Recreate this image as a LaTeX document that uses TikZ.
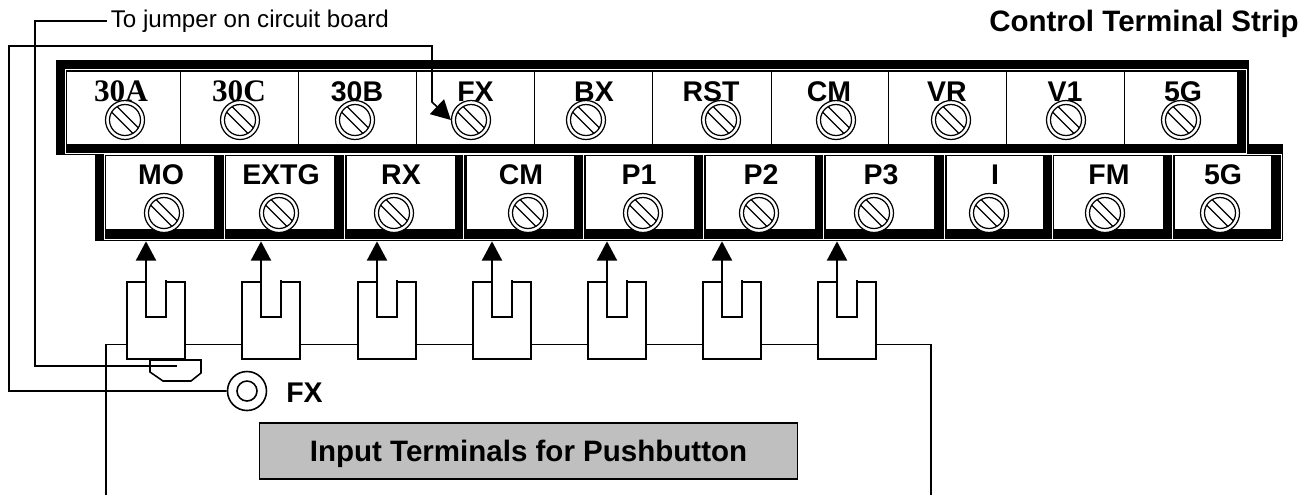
\documentclass[tikz,border=0pt]{standalone}
\usepackage{fontspec}
\setmainfont{Liberation Sans}
\newfontfamily\serifbold[BoldFont={Liberation Serif Bold}]{Liberation Serif}
\usetikzlibrary{arrows.meta}
\tikzset{
  strip/.style={draw=none,fill=black,rectangle,inner sep=0pt},
  wire/.style={line width=0.9pt},
  feed/.style={wire,-{Triangle[length=11pt,width=11.5pt]},shorten >=0pt},
  lugline/.style={line width=0.9pt,fill=white},
  gap/.style={white,line width=0.55pt},
  cell/.style={fill=white},
  tag/.style={font=\fontsize{16.2}{18}\selectfont\bfseries,anchor=base,inner sep=0pt},
  numtag/.style={font=\fontsize{17.8}{18}\selectfont\serifbold\bfseries,anchor=base,inner sep=0pt},
  screw/.style={circle,draw,fill=white,line width=0.7pt,inner sep=0pt,minimum size=0.78cm,
    path picture={
      \draw[line width=0.7pt,shift={(path picture bounding box.center)}] (0,0) circle [radius=15.5];
      \draw[line width=0.7pt,shift={(path picture bounding box.center)}]
        (-7.7,-13.3) -- (13.3,7.7) (-13.3,-7.7) -- (7.7,13.3);
    }},
  post/.style={circle,draw,fill=white,line width=0.9pt,inner sep=0pt,minimum size=0.78cm,
    path picture={\draw[line width=0.9pt] (path picture bounding box.center) circle [radius=10];}},
  lug/.pic={
    \draw[lugline] (19,0) -- (0,0) -- (0,77) -- (58,77) -- (58,0) -- (39,0) -- (39,35) -- (19,35) -- cycle;
    \draw[lugline] (39,0) -- (39,-2);}
}
\begin{document}
\begin{tikzpicture}[x=0.02cm,y=-0.02cm]
  \useasboundingbox (0,0) rectangle (1308,495);
  % black bodies of the two rows
  \node[strip,minimum width=23.76cm,minimum height=1.94cm] (lowerstrip) at (689,192.5) {};
  \node[strip,minimum width=23.86cm,minimum height=1.9cm] (upperstrip) at (652.5,107.5) {};
  % upper row
  \draw[gap] (65,69.5) rectangle (1246,153);
  \fill[cell] (67,72) rectangle (1237,144);
  \draw[line width=0.5pt] (180,72) -- (180,144) (298,72) -- (298,144) (416,72) -- (416,144)
    (534,72) -- (534,144) (652,72) -- (652,144) (771,72) -- (771,144) (888,72) -- (888,144)
    (1006,72) -- (1006,144) (1124,72) -- (1124,144);
  \node[numtag] (tagA) at (121,101) {30A};
  \node[numtag] (tagC) at (239,101) {30C};
  \node[tag] (tagB) at (357,101) {30B};
  \node[tag] (tagFX) at (475.5,101) {FX};
  \node[tag] (tagBX) at (594,101) {BX};
  \node[tag] (tagRST) at (711,101) {RST};
  \node[tag] (tagCMa) at (829,101) {CM};
  \node[tag] (tagVR) at (947,101) {VR};
  \node[tag] (tagVa) at (1065,101) {V1};
  \node[tag] (tagGa) at (1183,101) {5G};
  \node[screw] (scrA) at (125,120) {};
  \node[screw] (scrC) at (240,120) {};
  \node[screw] (scrB) at (355,120) {};
  \node[screw] (scrFX) at (471,120) {};
  \node[screw] (scrBX) at (586,120) {};
  \node[screw] (scrRST) at (721,120) {};
  \node[screw] (scrCMa) at (836,120) {};
  \node[screw] (scrVR) at (951,120) {};
  \node[screw] (scrVa) at (1066,120) {};
  \node[screw] (scrGa) at (1181,120) {};
  % lower row
  \draw[gap] (104,154) rectangle (1281,239);
  \draw[gap] (224,154) -- (224,239) (344,154) -- (344,239) (463.5,154) -- (463.5,239)
    (583.7,154) -- (583.7,239) (703,154) -- (703,239) (823.5,154) -- (823.5,239)
    (944,154) -- (944,239) (1052,154) -- (1052,239) (1172.5,154) -- (1172.5,239);
  \fill[cell] (106,156) rectangle (214,229);
  \fill[cell] (226,156) rectangle (334,229);
  \fill[cell] (347,156) rectangle (455,229);
  \fill[cell] (467,156) rectangle (574,229);
  \fill[cell] (586,156) rectangle (694,229);
  \fill[cell] (706,156) rectangle (815,229);
  \fill[cell] (826,156) rectangle (934,229);
  \fill[cell] (947,156) rectangle (1043,229);
  \fill[cell] (1054,156) rectangle (1163,229);
  \fill[cell] (1175,156) rectangle (1271,229);
  \node[tag] (tagMO) at (161,184) {MO};
  \node[tag] (tagEXTG) at (281,184) {EXTG};
  \node[tag] (tagRX) at (401,184) {RX};
  \node[tag] (tagCMb) at (521,184) {CM};
  \node[tag] (tagP1) at (639,184) {P1};
  \node[tag] (tagP2) at (761,184) {P2};
  \node[tag] (tagP3) at (881,184) {P3};
  \node[tag] (tagI) at (995,184) {I};
  \node[tag] (tagFM) at (1109,184) {FM};
  \node[tag] (tagGb) at (1223,184) {5G};
  \node[screw] (scrMO) at (164,213) {};
  \node[screw] (scrEXTG) at (279,213) {};
  \node[screw] (scrRX) at (394,213) {};
  \node[screw] (scrCMb) at (528,213) {};
  \node[screw] (scrP1) at (643,213) {};
  \node[screw] (scrP2) at (759,213) {};
  \node[screw] (scrP3) at (874,213) {};
  \node[screw] (scrI) at (989,213) {};
  \node[screw] (scrFM) at (1105,213) {};
  \node[screw] (scrGb) at (1220,213) {};
  % input terminals
  \draw[wire] (106,495) -- (106,344.5) -- (931,344.5) -- (931,495);
  \pic at (127,282) {lug};
  \pic at (242,282) {lug};
  \pic at (358,282) {lug};
  \pic at (473,282) {lug};
  \pic at (588,282) {lug};
  \pic at (703,282) {lug};
  \pic at (818,282) {lug};
  \coordinate (notchMO) at (146,317);
  \coordinate (notchEXTG) at (261,317);
  \coordinate (notchRX) at (377,317);
  \coordinate (notchCM) at (492,317);
  \coordinate (notchP1) at (607,317);
  \coordinate (notchP2) at (722,317);
  \coordinate (notchP3) at (837,317);
  \draw[feed] (notchMO) -- (notchMO |- lowerstrip.south);
  \draw[feed] (notchEXTG) -- (notchEXTG |- lowerstrip.south);
  \draw[feed] (notchRX) -- (notchRX |- lowerstrip.south);
  \draw[feed] (notchCM) -- (notchCM |- lowerstrip.south);
  \draw[feed] (notchP1) -- (notchP1 |- lowerstrip.south);
  \draw[feed] (notchP2) -- (notchP2 |- lowerstrip.south);
  \draw[feed] (notchP3) -- (notchP3 |- lowerstrip.south);
  % jumper and FX wires
  \draw[lugline] (150,360) -- (201,360) -- (201,373) -- (191,381) -- (163,381) -- (150,372) -- cycle;
  \node[anchor=west,inner sep=2pt,font=\fontsize{13.75}{15}\selectfont] (jumpertext) at (107,21) {To jumper on circuit board};
  \coordinate (jumperend) at (177,366);
  \draw[wire] (jumperend) -- (35,366) |- (jumpertext.west);
  \node[post] (fxpost) at (247,391) {};
  \node[tag,anchor=base west] (fxtext) at (286,402) {FX};
  \coordinate (fxbend) at (432,102);
  \draw[feed] (fxpost.west) -- (9,391) -- (9,46) -- (432,46) -- (fxbend) -- (scrFX.west);
  \node[draw,line width=0.9pt,fill=black!25,minimum width=10.76cm,minimum height=1.12cm,inner sep=0pt,text depth=0pt,
    font=\fontsize{16.8}{18}\selectfont\bfseries] (inputbox) at (528.5,451) {Input Terminals for Pushbutton};
  \node[anchor=base east,inner sep=0pt,font=\fontsize{16.8}{18}\selectfont\bfseries] (striptitle) at (1299,31) {Control Terminal Strip};
\end{tikzpicture}
\end{document}
